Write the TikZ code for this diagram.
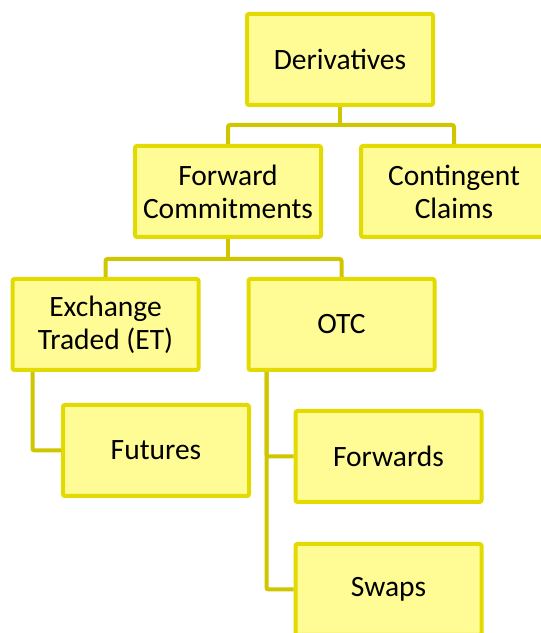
\documentclass[tikz,border=0pt]{standalone}
\usepackage{fontspec}
\setmainfont{Carlito}
\usepackage{xcolor}
\usepackage{tikz}
\usetikzlibrary{positioning}
\definecolor{boxedge}{RGB}{226,218,0}
\definecolor{boxfill}{RGB}{255,252,150}
\definecolor{linkcol}{RGB}{208,198,0}
\tikzset{
  box/.style={rectangle, draw=boxedge, fill=boxfill,
    minimum width=186pt, minimum height=91pt, align=center,
    font=\fontsize{29.5}{33}\selectfont, rounded corners=2pt, line width=4pt},
  link/.style={line width=4pt, color=linkcol, rounded corners=2pt}
}
\begin{document}
\begin{tikzpicture}[x=1pt, y=1pt]
  \useasboundingbox (0,0) rectangle (541,633);
  \node[box] (deriv) at (340,573.5) {Derivatives};
  \node[box, below=37pt of deriv, xshift=-112pt] (fc) {Forward\\Commitments};
  \node[box, right=36pt of fc] (cc) {Contingent\\Claims};
  \node[box, below=38pt of fc, xshift=-122.5pt] (et) {Exchange\\Traded (ET)};
  \node[box, right=46pt of et] (otc) {OTC};
  \node[box, below=31pt of et, xshift=50.5pt] (fut) {Futures};
  \node[box, below=37pt of otc, xshift=47pt] (fwd) {Forwards};
  \node[box, below=38pt of fwd] (swp) {Swaps};

  \draw[link] (deriv.south) -- ++(0,-18pt) coordinate (j1);
  \draw[link] (fc.north) |- (j1) -| (cc.north);
  \draw[link] (fc.south) -- ++(0,-20pt) coordinate (j2);
  \draw[link] (et.north) |- (j2) -| (otc.north);
  \draw[link] ([xshift=22pt]et.south west) |- (fut.west);
  \coordinate (j3) at ([xshift=20pt]otc.south west);
  \draw[link] (j3) |- (fwd.west);
  \draw[link] (j3) |- (swp.west);
\end{tikzpicture}
\end{document}
